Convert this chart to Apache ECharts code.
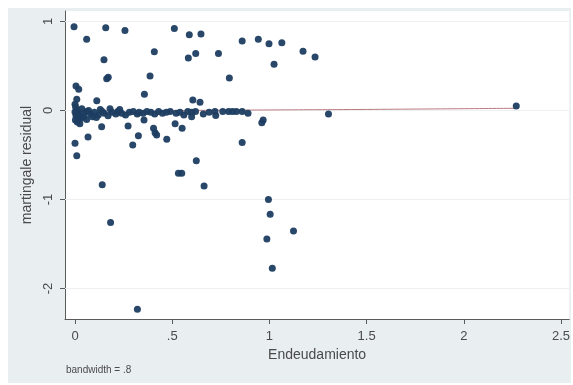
<!DOCTYPE html>
<html>
<head>
<meta charset="utf-8">
<script src="https://cdn.jsdelivr.net/npm/echarts@6/dist/echarts.min.js"></script>
<style>
  html, body { margin: 0; padding: 0; background: #ffffff; }
  #chart { width: 573px; height: 385px; }
</style>
</head>
<body>
<div id="chart"></div>
<script>
// Martingale residuals against Endeudamiento, with a lowess smooth (bandwidth .8)

// Scattered residuals: [Endeudamiento, martingale residual]
const residualsUpper = [
  [-0.005, 0.94], [0.06, 0.80], [0.158, 0.93], [0.257, 0.90], [0.511, 0.92],
  [0.588, 0.85], [0.648, 0.86], [0.86, 0.78], [0.943, 0.80], [0.998, 0.75],
  [1.064, 0.76], [1.173, 0.665], [1.235, 0.60], [0.583, 0.59], [0.621, 0.64],
  [0.738, 0.64], [1.024, 0.52], [0.794, 0.365], [0.408, 0.66], [0.149, 0.57],
  [0.171, 0.373], [0.163, 0.357], [0.386, 0.388], [0.005, 0.275], [0.019, 0.238],
  [0.009, 0.126], [0.112, 0.11], [0.357, 0.182], [0.606, 0.118], [0.643, 0.092],
  [1.304, -0.04], [2.27, 0.05]
];

const residualsLower = [
  [0.961, -0.137], [0.968, -0.107], [0.551, -0.20], [0.86, -0.36], [0.624, -0.564],
  [0.549, -0.706], [0.532, -0.706], [0.664, -0.848], [0.14, -0.834], [0.183, -1.26],
  [0.321, -2.234], [0.995, -1.0], [1.004, -1.166], [1.124, -1.354], [0.987, -1.444],
  [1.015, -1.773], [0.137, -0.182], [0.273, -0.174], [0.067, -0.298], [0.326, -0.283],
  [0.297, -0.388], [0.404, -0.20], [0.412, -0.25], [0.42, -0.275], [0.355, -0.107],
  [0.515, -0.15], [0.472, -0.324], [0.0, -0.369], [0.009, -0.508], [0.60, -0.07],
  [0.724, -0.056]
];

// Dense band of small residuals close to zero
const residualsNearZero = [
  [0.0, 0.07], [0.003, 0.04], [0.01, 0.006], [0.0, -0.017], [0.015, -0.039],
  [0.005, -0.06], [0.02, -0.084], [0.002, -0.107], [0.012, -0.13], [0.025, -0.15],
  [0.008, -0.03], [0.018, -0.05], [0.03, -0.09], [0.045, -0.07], [0.06, -0.1],
  [0.04, -0.03], [0.06, -0.01], [0.08, -0.04], [0.10, -0.02], [0.12, -0.05],
  [0.14, -0.01], [0.15, -0.03], [0.17, -0.06], [0.19, -0.02], [0.21, -0.04],
  [0.22, -0.01], [0.24, -0.03], [0.26, -0.05], [0.28, -0.02], [0.30, -0.01],
  [0.32, -0.04], [0.33, -0.02], [0.35, -0.03], [0.37, -0.01], [0.39, -0.02],
  [0.41, -0.04], [0.43, -0.01], [0.45, -0.03], [0.47, -0.02], [0.49, -0.01],
  [0.52, -0.03], [0.54, -0.02], [0.56, -0.05], [0.58, -0.01], [0.60, -0.02],
  [0.62, -0.01], [0.66, -0.04], [0.69, -0.02], [0.72, -0.01], [0.76, -0.01],
  [0.79, -0.01], [0.81, -0.01], [0.83, -0.01], [0.86, -0.01], [0.89, -0.03],
  [0.09, -0.07], [0.11, -0.08], [0.13, 0.01], [0.18, 0.02], [0.23, 0.01],
  [0.07, 0.0], [0.035, 0.02]
];

// Lowess smooth of the residuals
const lowessSmooth = [
  [0.0, -0.03], [0.3, -0.02], [0.6, 0.0], [1.0, 0.006], [1.5, 0.012], [2.27, 0.025]
];

const xTicks = [0, 0.5, 1, 1.5, 2, 2.5];
const xTickLabels = ['0', '.5', '1', '1.5', '2', '2.5'];
const yTicks = [-2, -1, 0, 1];
const yTickLabels = ['-2', '-1', '0', '1'];

const xLabelOf = v => xTickLabels[xTicks.findIndex(t => Math.abs(t - v) < 1e-9)] ?? '';
const yLabelOf = v => yTickLabels[yTicks.findIndex(t => Math.abs(t - v) < 1e-9)] ?? '';

const pointColor = '#1c3d61';
const axisColor = '#5a5a5a';
const textColor = '#4a4a4a';
const font = 'Liberation Sans, Arial, sans-serif';

const chart = echarts.init(document.getElementById('chart'), null, { renderer: 'canvas' });

const scatterStyle = {
  type: 'scatter',
  symbol: 'circle',
  symbolSize: 7,
  itemStyle: { color: pointColor, opacity: 0.95 },
  silent: true,
  z: 3
};

chart.setOption({
  animation: false,
  backgroundColor: '#ffffff',
  graphic: [
    {
      type: 'rect', z: -10, silent: true,
      shape: { x: 8, y: 8, width: 563, height: 375 },
      style: { fill: '#e9eef1' }
    },
    {
      type: 'text', left: 66, top: 365, silent: true,
      style: { text: 'bandwidth = .8', fontSize: 10, fill: textColor, fontFamily: font }
    }
  ],
  grid: {
    left: 65, top: 11, right: 3, bottom: 66,
    show: true, backgroundColor: '#ffffff', borderWidth: 0
  },
  xAxis: {
    type: 'value',
    min: -0.0515, max: 2.5425,
    name: 'Endeudamiento',
    nameLocation: 'middle',
    nameGap: 25,
    nameTextStyle: { color: textColor, fontSize: 14, fontFamily: font },
    axisLine: { show: true, onZero: false, lineStyle: { color: axisColor, width: 1 } },
    axisTick: { show: true, inside: false, length: 5, customValues: xTicks, lineStyle: { color: axisColor } },
    axisLabel: {
      customValues: xTicks, formatter: xLabelOf, margin: 11,
      color: textColor, fontSize: 13, fontFamily: font, showMinLabel: true, showMaxLabel: true
    },
    splitLine: { show: false }
  },
  yAxis: {
    type: 'value',
    min: -2.343, max: 1.118,
    name: 'martingale residual',
    nameLocation: 'middle',
    nameGap: 27,
    nameRotate: 90,
    nameTextStyle: { color: textColor, fontSize: 14, fontFamily: font },
    axisLine: { show: true, onZero: false, lineStyle: { color: axisColor, width: 1 } },
    axisTick: { show: true, inside: false, length: 5, customValues: yTicks, lineStyle: { color: axisColor } },
    axisLabel: {
      customValues: yTicks, formatter: yLabelOf, rotate: 90, margin: 10,
      color: textColor, fontSize: 13, fontFamily: font
    },
    splitLine: { show: false }
  },
  series: [
    {
      type: 'line',
      data: lowessSmooth,
      showSymbol: false,
      smooth: true,
      silent: true,
      lineStyle: { color: '#b97a80', width: 1 },
      z: 2,
      markLine: {
        silent: true,
        symbol: 'none',
        label: { show: false },
        lineStyle: { color: '#edf1f4', width: 1, type: 'solid' },
        data: yTicks.map(v => ({ yAxis: v })),
        z: 1
      }
    },
    Object.assign({ data: residualsNearZero }, scatterStyle),
    Object.assign({ data: residualsUpper }, scatterStyle),
    Object.assign({ data: residualsLower }, scatterStyle)
  ]
});
</script>
</body>
</html>
